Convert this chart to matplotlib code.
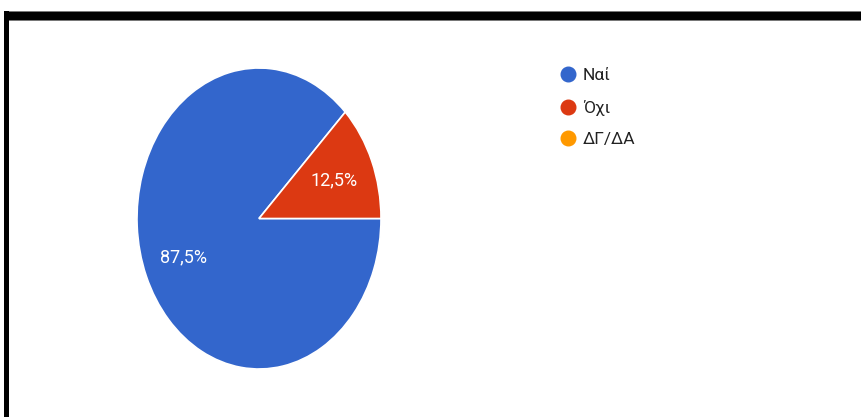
import matplotlib.pyplot as plt
from matplotlib.lines import Line2D
from matplotlib.patches import Rectangle

plt.rcParams['font.family'] = ['Roboto', 'DejaVu Sans']

# answers and share of responses
labels = ['Ναί', 'Όχι', 'ΔΓ/ΔΑ']
shares = [87.5, 12.5, 0.0]
colours = ['#3366cc', '#dc3912', '#ff9900']

W, H = 861, 417
fig = plt.figure(figsize=(W / 100, H / 100), dpi=100)

# thick black frame, top and left only
fig.add_artist(Rectangle((4 / W, 1 - 20 / H), 1, 9 / H, transform=fig.transFigure,
                         facecolor='black', edgecolor='#777777', lw=0.6))
fig.add_artist(Rectangle((4 / W, 0), 5 / W, 1 - 11 / H, transform=fig.transFigure,
                         facecolor='black', edgecolor='none'))

# pie is stretched vertically, so axes are not square
ax = fig.add_axes([137 / W, (H - 369) / H, 244 / W, 301 / H])
shown = [(s, c) for s, c in zip(shares, colours) if s > 0]
wedges, _, autotexts = ax.pie(
    [s for s, _ in shown], colors=[c for _, c in shown],
    startangle=0, counterclock=False, radius=1,
    autopct=lambda p: f'{p:.1f}%'.replace('.', ','), pctdistance=0.67,
    wedgeprops=dict(edgecolor='white', linewidth=1.2),
    textprops=dict(color='white', fontsize=13))
ax.set_aspect('auto')
ax.set_xlim(-1, 1)
ax.set_ylim(-1, 1)
ax.axis('off')

handles = [Line2D([], [], marker='o', linestyle='none', markersize=10.5,
                  markerfacecolor=c, markeredgecolor=c) for c in colours]
fig.legend(handles, labels, loc='upper left', bbox_to_anchor=(561 / W, 1 - 68 / H),
           frameon=False, fontsize=12.5, handlelength=0.8, handletextpad=0.45,
           labelspacing=0.95, borderpad=0, borderaxespad=0, labelcolor='#222222')

fig.savefig('out.png', dpi=100)
